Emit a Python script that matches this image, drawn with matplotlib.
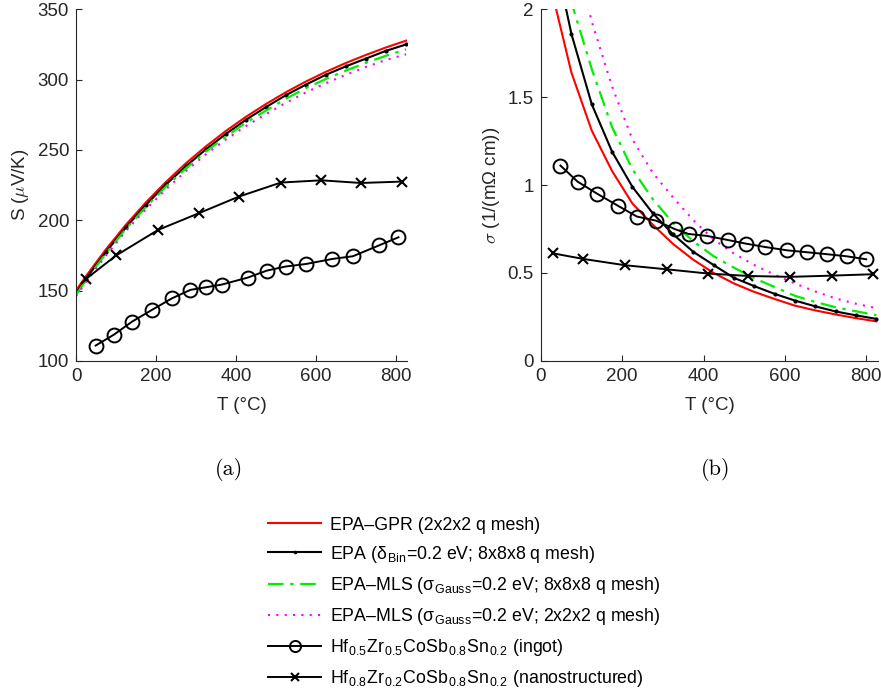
import matplotlib
matplotlib.use("Agg")
import matplotlib.pyplot as plt
import numpy as np

plt.rcParams['font.family'] = ['Liberation Sans', 'DejaVu Sans']
plt.rcParams['mathtext.fontset'] = 'cm'

# calculated curves (same temperature grid, deg C)
T_calc = [0, 25, 75, 125, 175, 225, 275, 325, 375, 425, 475, 525, 575, 625, 675, 725, 775, 825]

S_gpr = [150.0, 160.3, 179.4, 196.9, 212.8, 227.3, 240.6, 252.6, 263.6, 273.6, 282.7,
         291.1, 298.7, 305.6, 311.9, 317.6, 322.9, 327.7]
S_epa = [148.0, 158.5, 177.5, 195.0, 211.0, 225.5, 238.5, 250.5, 261.5, 271.5, 280.5,
         289.0, 296.5, 303.5, 309.5, 315.0, 320.5, 325.0]
S_mls8 = [147.0, 157.5, 176.5, 194.0, 209.5, 224.0, 237.0, 249.0, 259.5, 269.5, 278.0,
          286.5, 294.0, 300.5, 306.5, 312.0, 317.0, 321.5]
S_mls2 = [146.0, 156.0, 175.0, 192.5, 208.0, 222.0, 235.0, 247.0, 257.5, 267.0, 275.5,
          283.5, 291.0, 297.5, 303.5, 309.0, 314.0, 318.0]

sig_gpr = [2.6, 2.12, 1.64, 1.31, 1.08, 0.895, 0.775, 0.665, 0.575, 0.500, 0.440,
           0.392, 0.352, 0.314, 0.287, 0.264, 0.243, 0.225]
sig_epa = [2.9, 2.40, 1.86, 1.46, 1.19, 0.99, 0.84, 0.72, 0.62, 0.545, 0.472,
           0.425, 0.381, 0.343, 0.310, 0.281, 0.259, 0.239]
sig_mls8 = [3.2, 2.6, 2.04, 1.66, 1.33, 1.09, 0.92, 0.785, 0.68, 0.595, 0.53,
            0.47, 0.42, 0.37, 0.335, 0.305, 0.282, 0.26]
sig_mls2 = [3.6, 3.1, 2.4, 1.93, 1.56, 1.26, 1.07, 0.93, 0.80, 0.69, 0.61,
            0.545, 0.49, 0.44, 0.395, 0.355, 0.325, 0.30]

# experiments
T_ingot_S = [49, 95, 140, 190, 240, 286, 326, 365, 429, 477, 524, 575, 641, 692, 758, 806]
S_ingot = [110.9, 118.7, 127.9, 136.3, 144.5, 150.5, 152.4, 154.3, 159.2, 164.2,
           167.1, 168.9, 172.5, 174.4, 182.2, 187.9]
T_nano_S = [24, 101, 205, 307, 407, 512, 613, 712, 815]
S_nano = [158.1, 175.1, 193.1, 205.0, 216.8, 226.8, 228.4, 226.5, 227.5]

T_ingot_sig = [48, 90, 139, 189, 236, 283, 330, 363, 408, 459, 504, 551, 605, 654, 703, 752, 800]
sig_ingot = [1.111, 1.020, 0.950, 0.883, 0.821, 0.798, 0.749, 0.722, 0.711, 0.688,
             0.667, 0.648, 0.629, 0.618, 0.607, 0.595, 0.578]
T_nano_sig = [29, 104, 207, 309, 410, 510, 613, 716, 818]
sig_nano = [0.612, 0.580, 0.544, 0.521, 0.497, 0.483, 0.478, 0.485, 0.493]

labels = ['EPA\u2013GPR (2x2x2 q mesh)',
          'EPA (\u03b4$_{\\mathregular{Bin}}$=0.2 eV; 8x8x8 q mesh)',
          'EPA\u2013MLS (\u03c3$_{\\mathregular{Gauss}}$=0.2 eV; 8x8x8 q mesh)',
          'EPA\u2013MLS (\u03c3$_{\\mathregular{Gauss}}$=0.2 eV; 2x2x2 q mesh)',
          'Hf$_{\\mathregular{0.5}}$Zr$_{\\mathregular{0.5}}$CoSb$_{\\mathregular{0.8}}$Sn$_{\\mathregular{0.2}}$ (ingot)',
          'Hf$_{\\mathregular{0.8}}$Zr$_{\\mathregular{0.2}}$CoSb$_{\\mathregular{0.8}}$Sn$_{\\mathregular{0.2}}$ (nanostructured)']

axc = '#262626'
fig = plt.figure(figsize=(8.81, 6.94), dpi=100)
ax1 = fig.add_axes([0.0863, 0.480, 0.376, 0.5066])
ax2 = fig.add_axes([0.614, 0.480, 0.383, 0.5066])


def draw(ax, ys, ingot, nano):
    ax.plot(T_calc, ys[0], color='#ff0000', lw=1.5, label=labels[0])
    ax.plot(T_calc, ys[1], color='black', lw=1.5, marker='.', ms=4,
            markevery=list(range(1, len(T_calc))), label=labels[1])
    ax.plot(T_calc, ys[2], color='#00ee00', lw=1.6, ls='-.', dashes=(7, 3, 1.5, 3), label=labels[2])
    ax.plot(T_calc, ys[3], color='#ff00ff', lw=1.5, ls=':', dashes=(1, 3), label=labels[3])
    ax.plot(ingot[0], ingot[1], color='black', lw=1.4, marker='o', ms=10,
            mfc='none', mew=1.4, label=labels[4])
    ax.plot(nano[0], nano[1], color='black', lw=1.4, marker='x', ms=7,
            mew=1.5, label=labels[5])
    for s in ['top', 'right']:
        ax.spines[s].set_visible(False)
    for s in ['left', 'bottom']:
        ax.spines[s].set_color(axc)
        ax.spines[s].set_linewidth(0.8)
    ax.tick_params(direction='in', length=4, width=0.8, colors=axc, labelsize=13.5)
    ax.tick_params(axis='x', pad=5)
    ax.tick_params(axis='y', pad=5)
    ax.set_xlabel('T (\u00b0C)', fontsize=13.5, color=axc, labelpad=9)


draw(ax1, [S_gpr, S_epa, S_mls8, S_mls2], (T_ingot_S, S_ingot), (T_nano_S, S_nano))
ax1.set_xlim(0, 828)
ax1.set_ylim(100, 350)
ax1.set_xticks([0, 200, 400, 600, 800])
ax1.set_yticks([100, 150, 200, 250, 300, 350])
ax1.set_ylabel('S ($\\mu$V/K)', fontsize=13.5, color=axc, labelpad=5)

draw(ax2, [sig_gpr, sig_epa, sig_mls8, sig_mls2], (T_ingot_sig, sig_ingot), (T_nano_sig, sig_nano))
ax2.set_xlim(0, 830)
ax2.set_ylim(0, 2)
ax2.set_xticks([0, 200, 400, 600, 800])
ax2.set_yticks([0, 0.5, 1, 1.5, 2])
ax2.set_yticklabels(['0', '0.5', '1', '1.5', '2'])
ax2.set_ylabel('$\\sigma$ (1/(m\u03a9 cm))', fontsize=13.5, color=axc, labelpad=4)

fig.text(0.26, 0.323, '(a)', fontfamily='cmr10', fontsize=16, ha='center', va='center')
fig.text(0.812, 0.323, '(b)', fontfamily='cmr10', fontsize=16, ha='center', va='center')

handles, labs = ax1.get_legend_handles_labels()
fig.legend(handles, labs, loc='upper left', bbox_to_anchor=(0.296, 0.266),
           frameon=False, fontsize=12.8, handlelength=3.0, handletextpad=0.5,
           labelspacing=0.57, borderaxespad=0, markerscale=0.8)

fig.savefig('out.png', dpi=100)
